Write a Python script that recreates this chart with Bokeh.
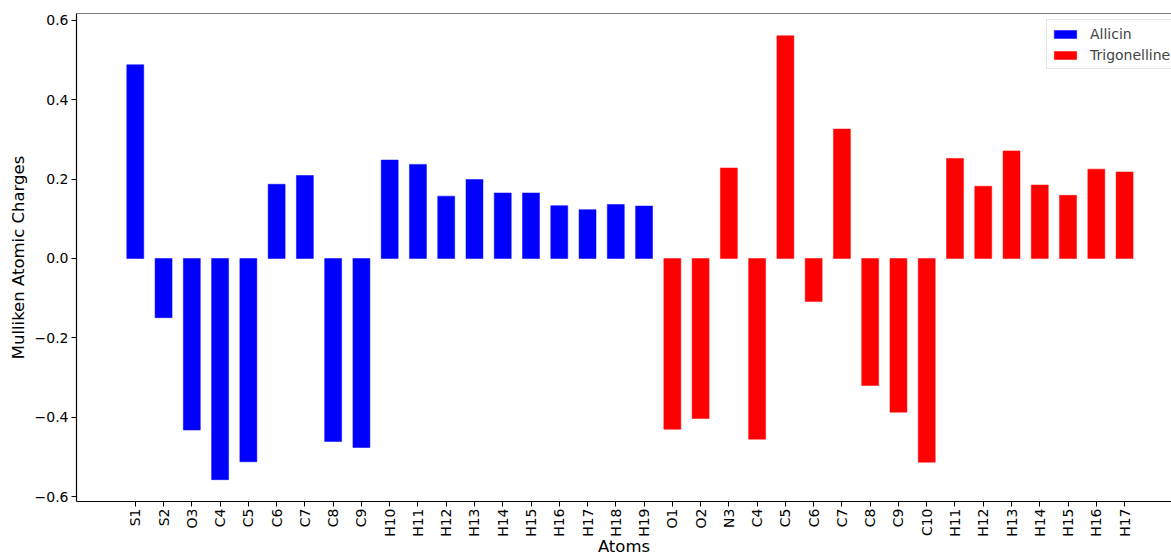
import math
from bokeh.plotting import figure
from bokeh.models import Range1d, FixedTicker, Span, Legend
from bokeh.embed import file_html
from bokeh.resources import INLINE

allicin_atoms = ["S1", "S2", "O3", "C4", "C5", "C6", "C7", "C8", "C9", "H10",
                 "H11", "H12", "H13", "H14", "H15", "H16", "H17", "H18", "H19"]
allicin_charges = [0.488, -0.149, -0.432, -0.557, -0.512, 0.187, 0.209, -0.461, -0.476, 0.248,
                   0.237, 0.157, 0.199, 0.165, 0.165, 0.133, 0.123, 0.136, 0.132]

trig_atoms = ["O1", "O2", "N3", "C4", "C5", "C6", "C7", "C8", "C9", "C10",
              "H11", "H12", "H13", "H14", "H15", "H16", "H17"]
trig_charges = [-0.430, -0.403, 0.228, -0.455, 0.561, -0.108, 0.326, -0.320, -0.387, -0.513,
                0.252, 0.182, 0.271, 0.185, 0.159, 0.225, 0.218]

y_ticks = [-0.6, -0.4, -0.2, 0.0, 0.2, 0.4, 0.6]

x_all = list(range(len(allicin_atoms)))
x_trig = [len(allicin_atoms) + i for i in range(len(trig_atoms))]
all_labels = allicin_atoms + trig_atoms

FONT = "DejaVu Sans"

p = figure(width=1171, height=558, output_backend="svg", toolbar_location=None,
           x_range=Range1d(-2.08, 36.66), y_range=Range1d(-0.612, 0.617),
           min_border_left=76, min_border_top=13, min_border_right=0, min_border_bottom=57)

r1 = p.vbar(x=x_all, top=allicin_charges, bottom=0, width=0.6,
            fill_color="#0000ff", line_color="#0000ff", line_width=0.5)
r2 = p.vbar(x=x_trig, top=trig_charges, bottom=0, width=0.6,
            fill_color="#ff0000", line_color="#ff0000", line_width=0.5)

p.xgrid.visible = False
p.ygrid.visible = False
p.outline_line_color = None
p.add_layout(Span(location=0.617, dimension="width", line_color="black", line_width=1.2))

xa = p.xaxis[0]
xa.ticker = FixedTicker(ticks=list(range(len(all_labels))))
xa.major_label_overrides = {i: lab for i, lab in enumerate(all_labels)}
xa.major_label_orientation = math.pi / 2
xa.axis_label = "Atoms"

ya = p.yaxis[0]
ya.ticker = FixedTicker(ticks=y_ticks)
ya.major_label_overrides = {t: (f"{t:.1f}".replace("-", "\u2212")) for t in y_ticks}
ya.axis_label = "Mulliken Atomic Charges"

for ax in (xa, ya):
    ax.major_label_text_font = FONT
    ax.major_label_text_font_size = "14px"
    ax.major_label_text_color = "black"
    ax.axis_label_text_font = FONT
    ax.axis_label_text_font_size = "16.5px"
    ax.axis_label_text_font_style = "normal"
    ax.axis_label_text_color = "black"
    ax.axis_line_color = "black"
    ax.axis_line_width = 1.2
    ax.major_tick_line_color = "black"
    ax.major_tick_out = 5
    ax.major_tick_in = 0
    ax.minor_tick_line_color = None
    ax.major_label_standoff = 3
    ax.axis_label_standoff = 4

xa.major_label_standoff = 2
xa.axis_label_standoff = -3

legend = Legend(items=[("Allicin", [r1]), ("Trigonelline", [r2])], location=(970, 432))
legend.label_text_font = FONT
legend.label_text_font_size = "14px"
legend.glyph_width = 28
legend.glyph_height = 10
legend.label_height = 19
legend.label_standoff = 11
legend.spacing = 2
legend.padding = 4
legend.margin = 0
legend.border_line_color = "#cccccc"
legend.border_line_width = 1
legend.background_fill_alpha = 0.8
p.add_layout(legend)

open("out.html", "w").write(file_html(p, INLINE))
